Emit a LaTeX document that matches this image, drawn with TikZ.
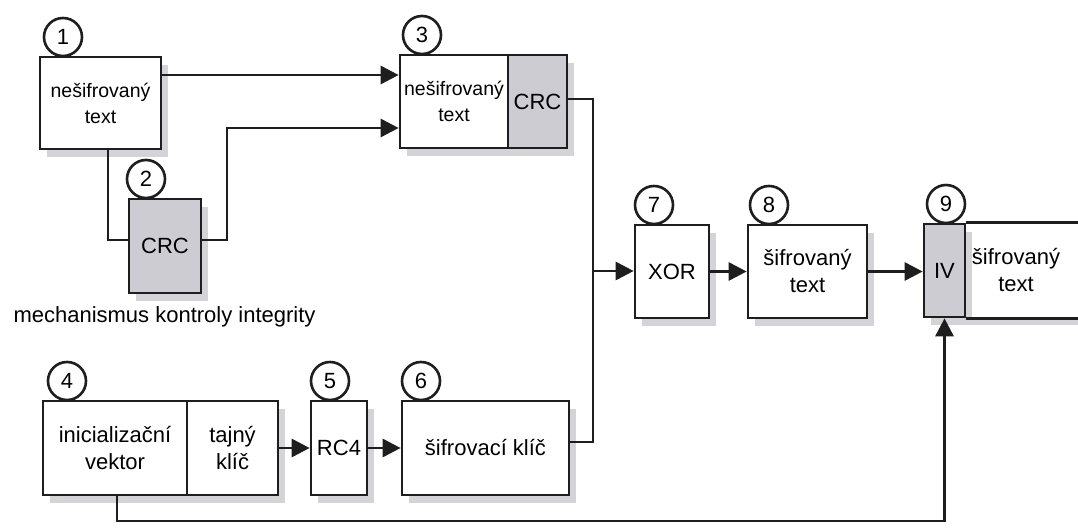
\documentclass[tikz,border=0pt]{standalone}
\usepackage{fontspec}
\setmainfont{Liberation Sans}
\usetikzlibrary{arrows.meta,calc}
\definecolor{boxgray}{RGB}{204,204,210}
\definecolor{shadowgray}{RGB}{212,212,216}
\definecolor{linecol}{RGB}{30,30,30}
\begin{document}
\begin{tikzpicture}[x=1pt,y=-1pt,
  shade box/.style={preaction={draw=none, fill=shadowgray, transform canvas={xshift=7pt, yshift=-8pt}}},
  box/.style={draw=linecol, line width=2.7pt, fill=white, inner sep=0pt, align=center,
    font=\fontsize{22}{27}\selectfont, shade box},
  graybox/.style={box, fill=boxgray},
  num/.style={circle, draw=linecol, line width=2.6pt, fill=white, minimum size=38pt, inner sep=0pt,
    font=\fontsize{22}{22}\selectfont},
  conn/.style={draw=linecol, line width=2.9pt},
  arr/.style={conn, -{Triangle[length=18pt,width=18pt]}},
]
\useasboundingbox (0,0) rectangle (1078,529);
\clip (0,0) rectangle (1078,529);

% boxes
\node[box, minimum width=121pt, minimum height=92pt, font=\fontsize{19.5}{26}\selectfont] (b1) at (100.5,103) {nešifrovaný\\text};
\node[graybox, minimum width=72pt, minimum height=94pt] (b2) at (165,246) {CRC};
\node[box, minimum width=108pt, minimum height=93pt, font=\fontsize{19.5}{26}\selectfont] (b3L) at (454,101.5) {nešifrovaný\\text};
\node[graybox, minimum width=59pt, minimum height=93pt] (b3R) at (537.5,101.5) {CRC};
\node[box, minimum width=144pt, minimum height=94pt] (b4L) at (115,448) {inicializační\\vektor};
\node[box, minimum width=91pt, minimum height=94pt] (b4R) at (232.5,448) {tajný\\klíč};
\node[box, minimum width=56pt, minimum height=94pt] (rc4) at (339,448) {RC4};
\node[box, minimum width=167pt, minimum height=94pt] (b6) at (485.5,448) {šifrovací klíč};
\node[box, minimum width=74pt, minimum height=93pt] (xor) at (672,271.5) {XOR};
\node[box, minimum width=119pt, minimum height=93pt] (b8) at (807.5,271.5) {šifrovaný\\text};
\node[box, draw=none, minimum width=140pt, minimum height=93pt] (b9t) at (1035,270.5) {};
\node[graybox, minimum width=41pt, minimum height=93pt] (b9iv) at (944.5,270.5) {IV};
\draw[conn, line width=2.7pt] (b9iv.north east) -- (b9iv.north east -| b9t.east);
\draw[conn, line width=2.7pt] (b9iv.south east) -- (b9iv.south east -| b9t.east);
\node[align=center, font=\fontsize{22}{27}\selectfont] (b9txt) at (1016,270.5) {šifrovaný\\text};

% numbered circles
\node[num] (c1) at (63,37) {1};
\node[num] (c2) at (146,179) {2};
\node[num] (c3) at (422,35) {3};
\node[num] (c4) at (67,381) {4};
\node[num] (c5) at (330,381) {5};
\node[num] (c6) at (421,381) {6};
\node[num] (c7) at (654,205) {7};
\node[num] (c8) at (769,205) {8};
\node[num] (c9) at (946,204) {9};

% label
\node[anchor=base west, font=\fontsize{22}{22}\selectfont] (lbl) at (10,322) {mechanismus kontroly integrity};

% connectors
\draw[arr] (b1.east |- 0,75) -- (b3L.west |- 0,75);
\draw[conn] (b1.south -| 108,0) |- (b2.west |- 0,240);
\draw[arr] (b2.east |- 0,240) -- (227,240) |- (b3L.west |- 0,128);
\draw[arr] (b3R.east |- 0,99) -| (593,271) -- (xor.west |- 0,271);
\draw[conn] (b6.east |- 0,442) -| (593,271);
\draw[arr] (xor.east) -- (b8.west);
\draw[arr] (b8.east) -- (b8.east -| b9iv.west);
\draw[arr] (b4R.east) -- (rc4.west);
\draw[arr] (rc4.east) -- (b6.west);
\draw[arr] (b4L.south -| 117,0) |- (b9iv.south |- 0,521) -- (b9iv.south);
\end{tikzpicture}
\end{document}
